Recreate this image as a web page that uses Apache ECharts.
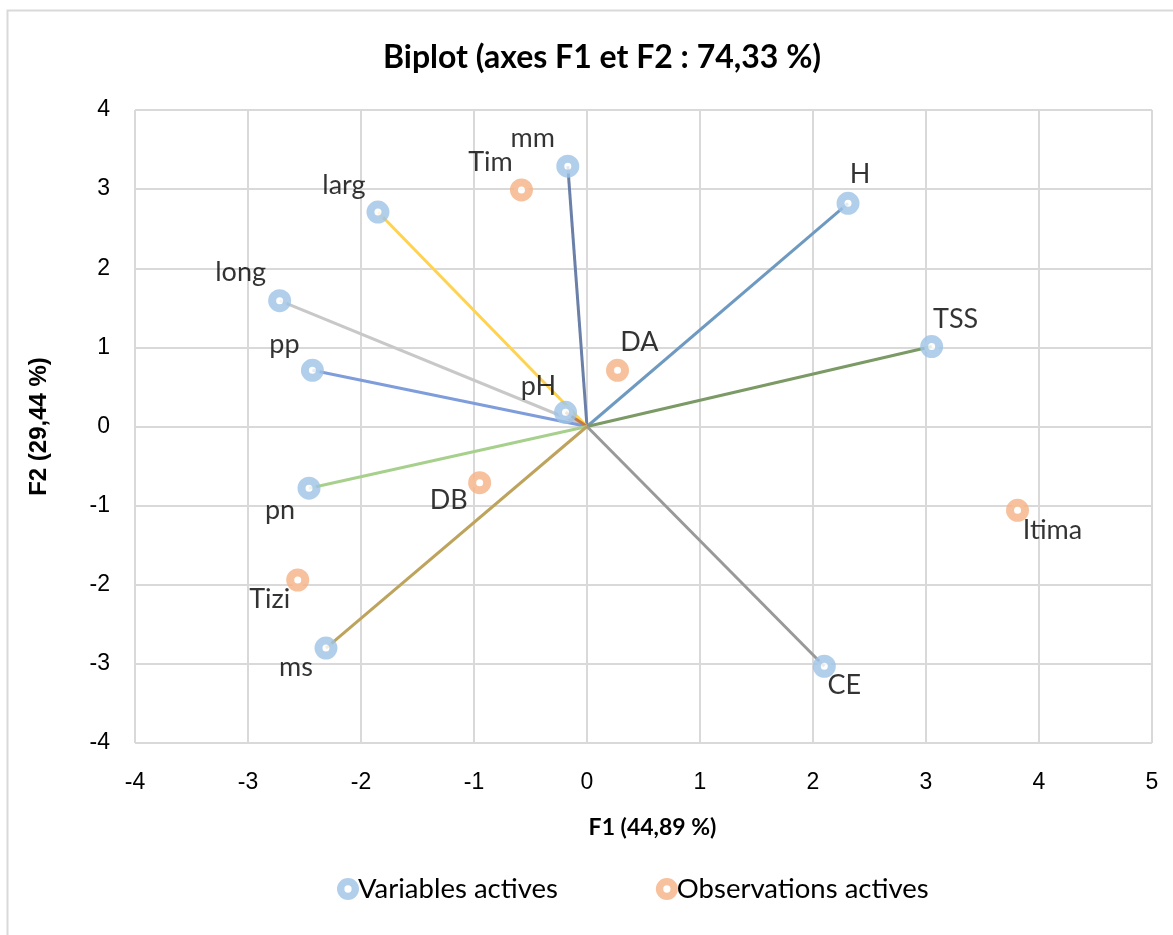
<!DOCTYPE html>
<html>
<head>
<meta charset="utf-8">
<script src="https://cdn.jsdelivr.net/npm/echarts@6/dist/echarts.min.js"></script>
<style>
  html, body { margin: 0; padding: 0; background: #fff; }
  #chart { width: 1173px; height: 935px; }
</style>
</head>
<body>
<div id="chart"></div>
<script>
// variables actives (vecteurs)
const varNames = ['mm', 'H', 'larg', 'long', 'TSS', 'pp', 'pH', 'pn', 'ms', 'CE']
const varF1 = [-0.17, 2.31, -1.85, -2.72, 3.05, -2.43, -0.19, -2.46, -2.31, 2.10]
const varF2 = [3.29, 2.82, 2.71, 1.59, 1.01, 0.71, 0.18, -0.78, -2.80, -3.03]

// observations actives
const obsNames = ['Tim', 'DA', 'DB', 'Tizi', 'Itima']
const obsF1 = [-0.58, 0.27, -0.95, -2.56, 3.81]
const obsF2 = [2.99, 0.71, -0.71, -1.94, -1.06]

const xTicks = [-4, -3, -2, -1, 0, 1, 2, 3, 4, 5]
const yTicks = [-4, -3, -2, -1, 0, 1, 2, 3, 4]

// couleurs des vecteurs, dans l'ordre de varNames
const vecColors = ['#6b80a8', '#6e99c0', '#ffd24f', '#c8c8c8', '#7b9a66', '#7f9ddb', '#c07a48', '#a8d08d', '#bda35c', '#999999']

// decalage des etiquettes (px) par nom
const labelOffset = {
  mm: [-35, -28], H: [12, -29], larg: [-34, -27], long: [-39, -28], TSS: [24, -27],
  pp: [-28, -26], pH: [-27, -26], pn: [-29, 22], ms: [-30, 19], CE: [20, 19],
  Tim: [-31, -28], DA: [22, -28], DB: [-31, 18], Tizi: [-28, 19], Itima: [35, 20]
}

const lblFont = 'Lato, "Noto Sans", sans-serif'
const tickFont = '"Liberation Sans", Arial, sans-serif'
// anneau pour la legende (trou au centre)
const ringIcon = 'path://M0,-10A10,10 0 1,1 0,10A10,10 0 1,1 0,-10Z M0,-3.3A3.3,3.3 0 1,0 0,3.3A3.3,3.3 0 1,0 0,-3.3Z'

const pointData = (names, xs, ys) => names.map((n, i) => ({
  name: n,
  value: [xs[i], ys[i]],
  label: { offset: labelOffset[n] }
}))

const vectorSeries = varNames.map((n, i) => ({
  name: 'vec_' + n,
  type: 'line',
  data: [[0, 0], [varF1[i], varF2[i]]],
  showSymbol: false,
  symbol: 'none',
  silent: true,
  z: 1,
  lineStyle: { color: vecColors[i], width: 3 },
  animation: false
}))

const markerSeries = (name, color, names, xs, ys) => ({
  name: name,
  type: 'scatter',
  z: 5,
  symbol: 'circle',
  symbolSize: 15,
  itemStyle: { color: '#ffffff', borderColor: color, borderWidth: 8 },
  label: {
    show: true,
    position: 'inside',
    formatter: '{b}',
    color: '#000',
    fontSize: 27,
    fontFamily: lblFont
  },
  data: pointData(names, xs, ys),
  animation: false
})

const chart = echarts.init(document.getElementById('chart'))
chart.setOption({
  backgroundColor: '#fff',
  title: {
    text: 'Biplot (axes F1 et F2 : 74,33 %)',
    left: 378,
    top: 37,
    textStyle: { fontFamily: lblFont, fontWeight: 'bold', fontSize: 32, color: '#000' }
  },
  graphic: [{
    type: 'rect',
    shape: { x: 7.5, y: 10.5, width: 1200, height: 1000 },
    style: { fill: 'none', stroke: '#d9d9d9', lineWidth: 2 },
    silent: true
  }],
  legend: {
    data: [
      { name: 'Variables actives', icon: ringIcon, itemStyle: { color: '#9dc3e6', borderWidth: 0 } },
      { name: 'Observations actives', icon: ringIcon, itemStyle: { color: '#f4b183', borderWidth: 0 } }
    ],
    bottom: 27,
    left: 332,
    itemGap: 98,
    itemWidth: 22,
    itemHeight: 22,
    textStyle: { fontFamily: lblFont, fontSize: 27.5, color: '#000', padding: [0, 0, 0, -6] }
  },
  grid: { left: 135, right: 21, top: 110, bottom: 192 },
  xAxis: {
    type: 'value',
    min: xTicks[0],
    max: xTicks[xTicks.length - 1],
    interval: 1,
    name: 'F1 (44,89 %)',
    nameLocation: 'middle',
    nameGap: 73,
    nameTextStyle: { fontFamily: lblFont, fontWeight: 'bold', fontSize: 23, color: '#000', padding: [0, 0, 0, 18] },
    axisLine: { show: false },
    axisTick: { show: false },
    axisLabel: { fontFamily: tickFont, fontSize: 23, color: '#000', margin: 28 },
    splitLine: { lineStyle: { color: '#d9d9d9', width: 2 } }
  },
  yAxis: {
    type: 'value',
    min: yTicks[0],
    max: yTicks[yTicks.length - 1],
    interval: 1,
    name: 'F2 (29,44 %)',
    nameLocation: 'middle',
    nameGap: 84,
    nameTextStyle: { fontFamily: tickFont, fontWeight: 'bold', fontSize: 24, color: '#000' },
    axisLine: { show: false },
    axisTick: { show: false },
    axisLabel: { fontFamily: tickFont, fontSize: 23, color: '#000', margin: 25 },
    splitLine: { lineStyle: { color: '#d9d9d9', width: 2 } }
  },
  series: [
    ...vectorSeries,
    markerSeries('Variables actives', '#9dc3e6', varNames, varF1, varF2),
    markerSeries('Observations actives', '#f4b183', obsNames, obsF1, obsF2)
  ]
})
</script>
</body>
</html>
